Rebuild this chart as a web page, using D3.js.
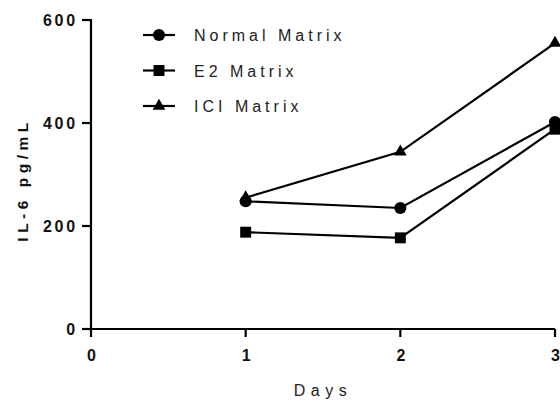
<!DOCTYPE html>
<html>
<head>
<meta charset="utf-8">
<script src="https://cdn.jsdelivr.net/npm/d3@7"></script>
<style>
  html, body { margin: 0; padding: 0; background: #fff; }
  svg { display: block; font-family: "Liberation Sans", Arial, sans-serif; }
</style>
</head>
<body>
<svg id="chart" width="560" height="400"></svg>
<script>
// IL-6 concentration by day for each matrix condition
const days = [1, 2, 3];
const normalMatrix = [248, 235, 402];
const e2Matrix = [188, 177, 388];
const iciMatrix = [255, 344, 555];
const xTicks = [0, 1, 2, 3];
const yTicks = [0, 200, 400, 600];
const seriesNames = ["Normal Matrix", "E2 Matrix", "ICI Matrix"];
const seriesShapes = ["circle", "square", "triangle"];

const series = [normalMatrix, e2Matrix, iciMatrix].map((vals, i) => ({
  name: seriesNames[i],
  shape: seriesShapes[i],
  points: days.map((d, j) => ({ day: d, value: vals[j] }))
}));

const svg = d3.select("#chart");
const x = d3.scaleLinear().domain([0, 3]).range([91, 555]);
const y = d3.scaleLinear().domain([0, 600]).range([329, 20]);

const symbolType = { circle: d3.symbolCircle, square: d3.symbolSquare, triangle: d3.symbolTriangle };
const symbolSize = { circle: 115, square: 120, triangle: 70 };

const STROKE = 2.2;

// Axes (labels from d3 axes, tick marks drawn explicitly below)
const xAxis = svg.append("g")
  .attr("transform", `translate(0,${y(0)})`)
  .call(d3.axisBottom(x).tickValues(xTicks).tickFormat(d3.format("d")).tickSize(0).tickPadding(21));
const yAxis = svg.append("g")
  .attr("transform", `translate(${x(0)},0)`)
  .call(d3.axisLeft(y).tickValues(yTicks).tickFormat(d3.format("d")).tickSize(0).tickPadding(13));

[xAxis, yAxis].forEach(g => {
  g.select(".domain").remove();
  g.selectAll(".tick line").remove();
  g.selectAll(".tick text")
    .attr("fill", "#111")
    .style("font-size", "16px")
    .style("font-weight", "bold")
    .style("letter-spacing", "2.8px");
});
xAxis.selectAll(".tick text").attr("dx", "1.4px");

const axisLines = svg.append("g").attr("stroke", "#000").attr("stroke-width", STROKE);
axisLines.append("line").attr("x1", x(0)).attr("x2", x(3)).attr("y1", y(0)).attr("y2", y(0));
axisLines.append("line").attr("x1", x(0)).attr("x2", x(0)).attr("y1", y(0)).attr("y2", y(600) - 1);
axisLines.selectAll(".xtick").data(xTicks).join("line")
  .attr("class", "xtick")
  .attr("x1", d => x(d)).attr("x2", d => x(d))
  .attr("y1", y(0)).attr("y2", y(0) + 8);
axisLines.selectAll(".ytick").data(yTicks).join("line")
  .attr("class", "ytick")
  .attr("x1", x(0) - 9).attr("x2", x(0))
  .attr("y1", d => y(d)).attr("y2", d => y(d));

// Axis titles
svg.append("text")
  .attr("x", 323).attr("y", 396)
  .attr("text-anchor", "middle")
  .style("font-size", "16px")
  .style("letter-spacing", "5.5px")
  .attr("fill", "#222")
  .text("Days");
svg.append("text")
  .attr("transform", `translate(28,180) rotate(-90)`)
  .attr("text-anchor", "middle")
  .style("font-size", "15.5px")
  .style("font-weight", "bold")
  .style("letter-spacing", "4.5px")
  .attr("fill", "#111")
  .text("IL-6 pg/mL");

// Series lines and markers
const line = d3.line().x(d => x(d.day)).y(d => y(d.value));
const plot = svg.append("g");
series.forEach(s => {
  plot.append("path")
    .datum(s.points)
    .attr("d", line)
    .attr("fill", "none")
    .attr("stroke", "#000")
    .attr("stroke-width", STROKE);
  plot.selectAll(null)
    .data(s.points)
    .join("path")
    .attr("transform", d => `translate(${x(d.day)},${y(d.value)})`)
    .attr("d", d3.symbol().type(symbolType[s.shape]).size(symbolSize[s.shape]))
    .attr("fill", "#000");
});

// Legend
const legend = svg.append("g").attr("transform", "translate(143,35)");
series.forEach((s, i) => {
  const row = legend.append("g").attr("transform", `translate(0,${i * 35.5})`);
  row.append("line").attr("x1", 0).attr("x2", 32).attr("y1", 0).attr("y2", 0)
    .attr("stroke", "#000").attr("stroke-width", STROKE);
  row.append("path")
    .attr("transform", "translate(16,0)")
    .attr("d", d3.symbol().type(symbolType[s.shape]).size(symbolSize[s.shape]))
    .attr("fill", "#000");
  row.append("text")
    .attr("x", 51).attr("y", 6)
    .style("font-size", "16px")
    .style("letter-spacing", "4px")
    .attr("fill", "#222")
    .text(s.name);
});
</script>
</body>
</html>
